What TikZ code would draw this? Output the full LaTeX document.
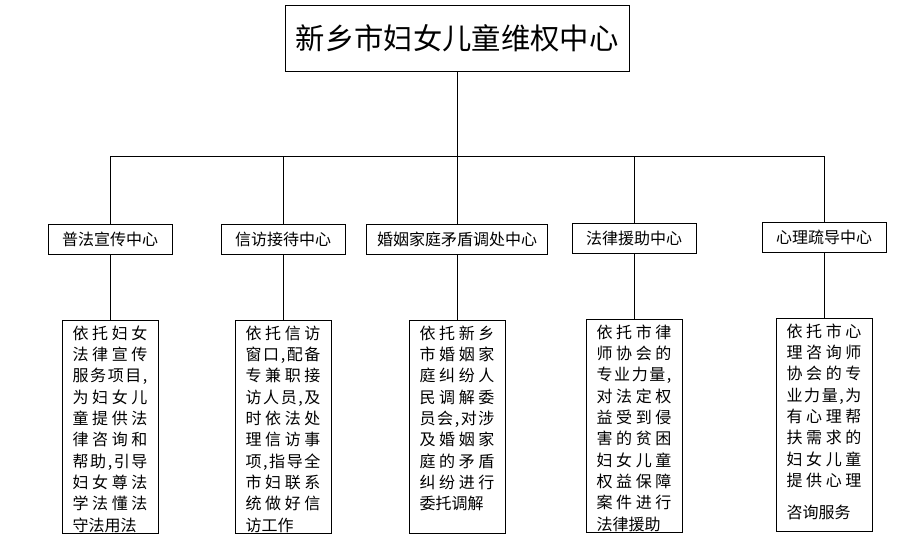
\documentclass[tikz,border=0pt]{standalone}
\usepackage{fontspec}
\setmainfont{Noto Sans CJK SC}
\usetikzlibrary{positioning}
% one justified line of a detail box
\newcommand\jl[1]{\makebox[56pt][s]{\jlfirst#1\relax}}
\def\jlfirst#1{#1\jlnext}
\def\jlnext#1{\ifx\relax#1\else\hfil#1\expandafter\jlnext\fi}
\tikzset{
    title-box/.style = {draw, line width=0.7pt, rectangle, minimum width=258pt, minimum height=49.5pt, inner sep=0pt, font=\fontsize{22}{26}\selectfont},
    center-box/.style = {draw, line width=0.7pt, rectangle, minimum width=93pt, minimum height=22.5pt, inner sep=0pt, font=\fontsize{12}{14}\selectfont},
    detail-box/.style = {draw, line width=0.7pt, rectangle, inner xsep=8pt, inner ysep=4pt, font=\fontsize{12}{16}\selectfont},
    link/.style = {line width=0.7pt},
}

\begin{document}
\begin{tikzpicture}[x=0.75pt, y=-0.75pt]
\useasboundingbox (0,0) rectangle (916,552);
\node [title-box] (head) at (457,38) {新乡市妇女儿童维权中心};
\coordinate (bus) at (457,156);
\node [center-box] (law) at (110,239) {普法宣传中心};
\node [center-box] (visit) at (283,239) {信访接待中心};
\node [center-box, minimum width=135.75pt] (family) at (457,239) {婚姻家庭矛盾调处中心};
\node [center-box] (aid) at (634,238) {法律援助中心};
\node [center-box] (mind) at (824,237) {心理疏导中心};
\node [detail-box, below=49pt of law] (law-txt) {\begin{minipage}[t][152pt][t]{56pt}
    \jl{依托妇女}\\ \jl{法律宣传}\\ \jl{服务项目,}\\ \jl{为妇女儿}\\ \jl{童提供法}\\
    \jl{律咨询和}\\ \jl{帮助,引导}\\ \jl{妇女尊法}\\ \jl{学法懂法}\\ 守法用法
\end{minipage}};
\node [detail-box, below=49pt of visit] (visit-txt) {\begin{minipage}[t][152pt][t]{56pt}
    \jl{依托信访}\\ \jl{窗口,配备}\\ \jl{专兼职接}\\ \jl{访人员,及}\\ \jl{时依法处}\\
    \jl{理信访事}\\ \jl{项,指导全}\\ \jl{市妇联系}\\ \jl{统做好信}\\ 访工作
\end{minipage}};
\node [detail-box, below=49pt of family] (family-txt) {\begin{minipage}[t][152pt][t]{56pt}
    \jl{依托新乡}\\ \jl{市婚姻家}\\ \jl{庭纠纷人}\\ \jl{民调解委}\\ \jl{员会,对涉}\\
    \jl{及婚姻家}\\ \jl{庭的矛盾}\\ \jl{纠纷进行}\\ 委托调解
\end{minipage}};
\node [detail-box, below=49pt of aid] (aid-txt) {\begin{minipage}[t][152pt][t]{56pt}
    \jl{依托市律}\\ \jl{师协会的}\\ \jl{专业力量,}\\ \jl{对法定权}\\ \jl{益受到侵}\\
    \jl{害的贫困}\\ \jl{妇女儿童}\\ \jl{权益保障}\\ \jl{案件进行}\\ 法律援助
\end{minipage}};
\node [detail-box, below=49pt of mind] (mind-txt) {\begin{minipage}[t][152pt][t]{56pt}
    \jl{依托市心}\\ \jl{理咨询师}\\ \jl{协会的专}\\ \jl{业力量,为}\\ \jl{有心理帮}\\
    \jl{扶需求的}\\ \jl{妇女儿童}\\ \jl{提供心理}\\[8pt] 咨询服务
\end{minipage}};
\draw [link] (head) -- (bus);
\foreach \n in {law, visit, family, aid, mind} {
    \draw [link] (bus) -| (\n);
    \draw [link] (\n) -- (\n-txt);
}
\end{tikzpicture}
\end{document}
